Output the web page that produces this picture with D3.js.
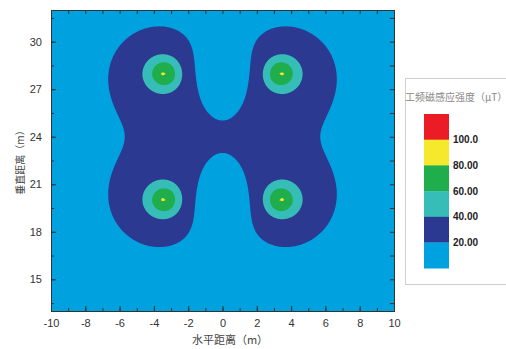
<!DOCTYPE html>
<html>
<head>
<meta charset="utf-8">
<script src="https://cdn.jsdelivr.net/npm/d3@7"></script>
<style>
  body { margin: 0; background: #fff; }
  svg { display: block; }
</style>
</head>
<body>
<div id="chart"></div>
<script>
// conductor positions and currents
const condX = [-3.3, 3.3, -3.3, 3.3];
const condY = [28, 28, 20, 20];
const condI = [232, 232, 232, 232];
const condPhase = [0, 0, 96, 96];   // degrees
const condRadius = 0.63;

// contour levels (uT) and colours
const levels = [20, 40, 60, 80, 100];
const levelColors = ['#2b3990', '#36bdb7', '#1fae4b', '#f6e82a', '#ec1c26'];
const baseColor = '#00a1df';
const legendLabels = ['100.0', '80.00', '60.00', '40.00', '20.00'];

const xTicks = [-10, -8, -6, -4, -2, 0, 2, 4, 6, 8, 10];
const yTicks = [15, 18, 21, 24, 27, 30];

const W = 506, H = 349;
const plot = { left: 51, right: 394, top: 10, bottom: 311 };
const xLo = -10, xHi = 10, yLo = 13, yHi = 32;

const svg = d3.select("#chart").append("svg")
  .attr("width", W).attr("height", H);

const x = d3.scaleLinear().domain([xLo, xHi]).range([plot.left, plot.right]);
const y = d3.scaleLinear().domain([yLo, yHi]).range([plot.bottom, plot.top]);

// field grid: each conductor gives 0.2*I/r, flattened inside its radius
const step = 0.04;
const nx = Math.round((xHi - xLo) / step) + 1;
const ny = Math.round((yHi - yLo) / step) + 1;
const values = new Float64Array(nx * ny);
const cosP = condPhase.map(p => Math.cos(p * Math.PI / 180));
const sinP = condPhase.map(p => Math.sin(p * Math.PI / 180));
const a4 = Math.pow(condRadius, 4);
for (let j = 0; j < ny; j++) {
  const py = yHi - j * step;
  for (let i = 0; i < nx; i++) {
    const px = xLo + i * step;
    let bxr = 0, bxi = 0, byr = 0, byi = 0;
    for (let k = 0; k < condX.length; k++) {
      const dx = px - condX[k], dy = py - condY[k];
      const r2 = dx * dx + dy * dy;
      const r = Math.sqrt(r2) || 1e-6;
      const f = 0.2 * condI[k] / Math.pow(r2 * r2 + a4, 0.25) / r;
      bxr += -dy * f * cosP[k]; bxi += -dy * f * sinP[k];
      byr += dx * f * cosP[k];  byi += dx * f * sinP[k];
    }
    values[j * nx + i] = Math.sqrt(bxr * bxr + bxi * bxi + byr * byr + byi * byi);
  }
}

const contours = d3.contours().size([nx, ny]).thresholds(levels)(values);

const path = d3.geoPath(d3.geoTransform({
  point: function(gx, gy) {
    this.stream.point(x(xLo + (gx - 0.5) * step), y(yHi - (gy - 0.5) * step));
  }
}));

svg.append("clipPath").attr("id", "clip")
  .append("rect")
  .attr("x", plot.left).attr("y", plot.top)
  .attr("width", plot.right - plot.left).attr("height", plot.bottom - plot.top);

const g = svg.append("g").attr("clip-path", "url(#clip)");
g.append("rect")
  .attr("x", plot.left).attr("y", plot.top)
  .attr("width", plot.right - plot.left).attr("height", plot.bottom - plot.top)
  .attr("fill", baseColor);

g.selectAll("path")
  .data(contours)
  .join("path")
  .attr("d", path)
  .attr("fill", (d, i) => levelColors[i]);

// axes, ticks pointing inward
const font = "'Liberation Sans', Arial, sans-serif";
const xMinor = d3.range(-10, 10.01, 1);
const yMinor = d3.range(13.5, 32.01, 1.5);

function styleAxis(sel) {
  sel.select(".domain").attr("stroke", "#333");
  sel.selectAll(".tick line").attr("stroke", "#333");
  sel.selectAll("text").attr("fill", "#333").style("font-family", font).style("font-size", "11px");
}

svg.append("g").attr("transform", "translate(0," + plot.bottom + ")")
  .call(d3.axisBottom(x).tickValues(xMinor).tickSize(-3).tickFormat(""))
  .call(styleAxis);
svg.append("g").attr("transform", "translate(0," + plot.bottom + ")")
  .call(d3.axisBottom(x).tickValues(xTicks).tickSize(-5).tickPadding(8).tickSizeOuter(0).tickFormat(d => String(d)))
  .call(styleAxis);
svg.append("g").attr("transform", "translate(0," + plot.top + ")")
  .call(d3.axisTop(x).tickValues(xMinor).tickSize(-4).tickFormat(""))
  .call(styleAxis);

svg.append("g").attr("transform", "translate(" + plot.left + ",0)")
  .call(d3.axisLeft(y).tickValues(yMinor).tickSize(-3).tickFormat(""))
  .call(styleAxis);
svg.append("g").attr("transform", "translate(" + plot.left + ",0)")
  .call(d3.axisLeft(y).tickValues(yTicks).tickSize(-5).tickPadding(9).tickSizeOuter(0))
  .call(styleAxis);
svg.append("g").attr("transform", "translate(" + plot.right + ",0)")
  .call(d3.axisRight(y).tickValues(yMinor).tickSize(-4).tickFormat(""))
  .call(styleAxis);

// axis titles
const cjk = "'Noto Sans CJK SC', sans-serif";
svg.append("text")
  .attr("x", 230).attr("y", 344)
  .attr("text-anchor", "middle")
  .style("font-family", cjk).style("font-size", "11px").attr("fill", "#444")
  .text("水平距离（m）");
svg.append("text")
  .attr("transform", "translate(24,160) rotate(-90)")
  .attr("text-anchor", "middle")
  .style("font-family", cjk).style("font-size", "10px").attr("fill", "#444")
  .text("垂直距离（m）");

// legend
const legend = svg.append("g");
legend.append("rect")
  .attr("x", 405.5).attr("y", 78.5).attr("width", 120).attr("height", 206)
  .attr("fill", "#fff").attr("stroke", "#cfcfcf");
legend.append("text")
  .attr("x", 405).attr("y", 101)
  .style("font-family", cjk).style("font-size", "10px").attr("fill", "#888")
  .text("工频磁感应强度（μT）");

const swatchColors = levelColors.slice().reverse().concat([baseColor]);
const swH = 25.7;
legend.selectAll(".sw")
  .data(swatchColors)
  .join("rect")
  .attr("class", "sw")
  .attr("x", 424).attr("y", (d, i) => 114 + i * swH)
  .attr("width", 25).attr("height", swH + 0.3)
  .attr("fill", d => d);
legend.selectAll(".lb")
  .data(legendLabels)
  .join("text")
  .attr("class", "lb")
  .attr("x", 453).attr("y", (d, i) => 114 + (i + 1) * swH)
  .attr("dy", "0.35em")
  .style("font-family", font).style("font-size", "10px").style("font-weight", "bold")
  .attr("fill", "#222")
  .text(d => d);
</script>
</body>
</html>
